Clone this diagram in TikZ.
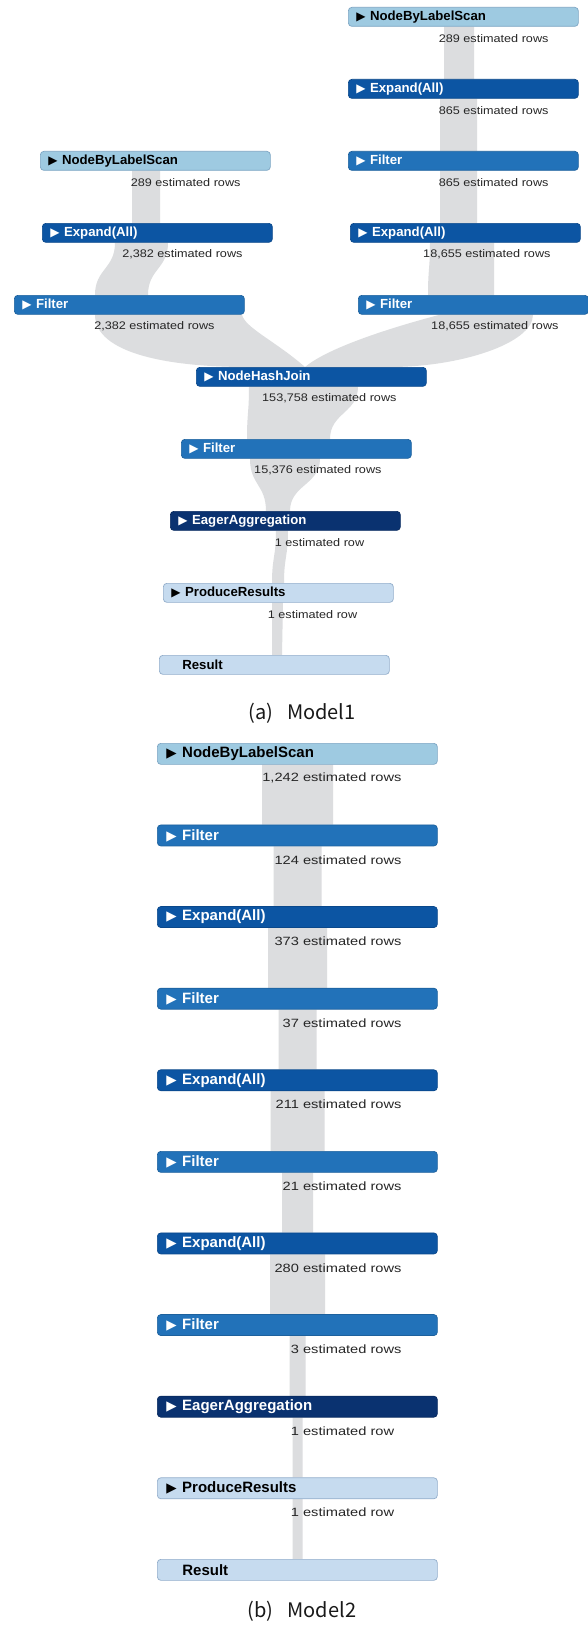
\documentclass[tikz,border=0pt]{standalone}
\usepackage{fontspec}
\setmainfont{Liberation Sans}
\newfontfamily\tri{DejaVu Sans}
\newfontfamily\rowA[FakeStretch=1.15]{Liberation Sans}
\newfontfamily\rowB[FakeStretch=1.22]{Liberation Sans}
\newfontfamily\capfont{Noto Sans CJK KR}
\usetikzlibrary{calc,backgrounds}

\definecolor{scanc}{HTML}{9ECAE1}
\definecolor{scanb}{HTML}{7EA6C4}
\definecolor{expc}{HTML}{0C55A3}
\definecolor{filc}{HTML}{2272B9}
\definecolor{eagc}{HTML}{0A3270}
\definecolor{prodc}{HTML}{C6DBEF}
\definecolor{prodb}{HTML}{93AECB}
\definecolor{bandc}{HTML}{DCDDDF}

\newcommand\tria{{\tri\fontsize{12}{12}\selectfont ▶}\hspace{4.5pt}}
\newcommand\trib{{\tri\fontsize{13.5}{13.5}\selectfont ▶}\hspace{5.5pt}}

% ribbon between two boxes: upper node, left x, right x, lower node, left x, right x
\newcommand\sband[6]{%
  \fill[band] let \p1=(#1.south), \p2=(#4.north), \n1={0.5*(\y1+\y2)} in
    (#2pt,\y1) .. controls (#2pt,\n1) and (#5pt,\n1) .. (#5pt,\y2)
    -- (#6pt,\y2) .. controls (#6pt,\n1) and (#3pt,\n1) .. (#3pt,\y1) -- cycle;}

\tikzset{
  op/.style={rectangle, rounded corners=3.5pt, anchor=north west, inner ysep=0pt,
    inner xsep=8pt, align=left, line width=0.7pt},
  opA/.style={op, minimum height=19pt, text width=214pt,
    font=\bfseries\fontsize{13.2}{14}\selectfont},
  opB/.style={op, minimum height=21pt, inner xsep=9pt, text width=262pt,
    font=\bfseries\fontsize{15}{17}\selectfont},
  scan/.style={fill=scanc, draw=scanb, text=black},
  expd/.style={fill=expc, draw=expc!85!black, text=white},
  filt/.style={fill=filc, draw=filc!85!black, text=white},
  eagr/.style={fill=eagc, draw=eagc!85!black, text=white},
  prod/.style={fill=prodc, draw=prodb, text=black},
  rowsA/.style={anchor=east, inner sep=0pt, font=\rowA\fontsize{11}{12}\selectfont, text=black!85},
  rowsB/.style={anchor=east, inner sep=0pt, font=\rowB\fontsize{12}{13}\selectfont, text=black!85},
  band/.style={fill=bandc},
  capt/.style={font=\capfont\fontsize{20}{22}\selectfont, text=black!90, inner sep=0pt},
}

\begin{document}
\begin{tikzpicture}[x=1pt,y=-1pt]
\useasboundingbox (0,0) rectangle (588,1632);

% ---------- Model 1 ----------
\node[opA,scan] (r1) at (348,7)   {\tria NodeByLabelScan};
\node[opA,expd] (r2) at (348,79)  {\tria Expand(All)};
\node[opA,filt] (r3) at (348,151) {\tria Filter};
\node[opA,expd] (r4) at (350,223) {\tria Expand(All)};
\node[opA,filt] (r5) at (358,295) {\tria Filter};
\node[opA,scan] (l1) at (40,151)  {\tria NodeByLabelScan};
\node[opA,expd] (l2) at (42,223)  {\tria Expand(All)};
\node[opA,filt] (l3) at (14,295)  {\tria Filter};
\node[opA,expd] (nhj) at (196,367) {\tria NodeHashJoin};
\node[opA,filt] (fa) at (181,439) {\tria Filter};
\node[opA,eagr] (ea) at (170,511) {\tria EagerAggregation};
\node[opA,prod] (pa) at (163,583) {\tria ProduceResults};
\node[opA,prod] (ra) at (159,655) {\hspace*{15pt}Result};

\node[rowsA] (r1t) at ($(r1.south east)+(-30,11.5)$) {289 estimated rows};
\node[rowsA] (r2t) at ($(r2.south east)+(-30,11.5)$) {865 estimated rows};
\node[rowsA] (r3t) at ($(r3.south east)+(-30,11.5)$) {865 estimated rows};
\node[rowsA] (r4t) at ($(r4.south east)+(-30,11.5)$) {18,655 estimated rows};
\node[rowsA] (r5t) at ($(r5.south east)+(-30,11.5)$) {18,655 estimated rows};
\node[rowsA] (l1t) at ($(l1.south east)+(-30,11.5)$) {289 estimated rows};
\node[rowsA] (l2t) at ($(l2.south east)+(-30,11.5)$) {2,382 estimated rows};
\node[rowsA] (l3t) at ($(l3.south east)+(-30,11.5)$) {2,382 estimated rows};
\node[rowsA] (nhjt) at ($(nhj.south east)+(-30,11.5)$) {153,758 estimated rows};
\node[rowsA] (fat) at ($(fa.south east)+(-30,11.5)$) {15,376 estimated rows};
\node[rowsA] (eat) at ($(ea.south east)+(-30,11.5)$) {1 estimated row\phantom{s}};
\node[rowsA] (pat) at ($(pa.south east)+(-30,11.5)$) {1 estimated row\phantom{s}};

\node[capt] (capa) at (302,713) {(a)\hspace{14pt}Model1};

% ---------- Model 2 ----------
\node[opB,scan] (m1) at (157,743.0)  {\trib NodeByLabelScan};
\node[opB,filt] (m2) at (157,824.6)  {\trib Filter};
\node[opB,expd] (m3) at (157,906.2)  {\trib Expand(All)};
\node[opB,filt] (m4) at (157,987.8)  {\trib Filter};
\node[opB,expd] (m5) at (157,1069.4) {\trib Expand(All)};
\node[opB,filt] (m6) at (157,1151.0) {\trib Filter};
\node[opB,expd] (m7) at (157,1232.6) {\trib Expand(All)};
\node[opB,filt] (m8) at (157,1314.2) {\trib Filter};
\node[opB,eagr] (m9) at (157,1395.8) {\trib EagerAggregation};
\node[opB,prod] (m10) at (157,1477.4) {\trib ProduceResults};
\node[opB,prod] (m11) at (157,1559.0) {\hspace*{16pt}Result};

\node[rowsB] (m1t) at ($(m1.south east)+(-36,13.5)$) {1,242 estimated rows};
\node[rowsB] (m2t) at ($(m2.south east)+(-36,13.5)$) {124 estimated rows};
\node[rowsB] (m3t) at ($(m3.south east)+(-36,13.5)$) {373 estimated rows};
\node[rowsB] (m4t) at ($(m4.south east)+(-36,13.5)$) {37 estimated rows};
\node[rowsB] (m5t) at ($(m5.south east)+(-36,13.5)$) {211 estimated rows};
\node[rowsB] (m6t) at ($(m6.south east)+(-36,13.5)$) {21 estimated rows};
\node[rowsB] (m7t) at ($(m7.south east)+(-36,13.5)$) {280 estimated rows};
\node[rowsB] (m8t) at ($(m8.south east)+(-36,13.5)$) {3 estimated rows};
\node[rowsB] (m9t) at ($(m9.south east)+(-36,13.5)$) {1 estimated row\phantom{s}};
\node[rowsB] (m10t) at ($(m10.south east)+(-36,13.5)$) {1 estimated row\phantom{s}};

\node[capt] (capb) at (302,1611) {(b)\hspace{14pt}Model2};

% ---------- flow ribbons ----------
\begin{pgfonlayer}{background}
\fill[white] (0,0) rectangle (588,1632);
% Model 1, right branch
\sband{r1}{444}{474}{r2}{444}{474}
\sband{r2}{440}{477}{r3}{440}{477}
\sband{r3}{440}{477}{r4}{440}{477}
\sband{r4}{430}{494}{r5}{428}{494}
\fill[band] let \p1=(r5.south), \p2=(nhj.north), \n1={\y1-\y2} in
  (440pt,\y1) -- (533pt,\y1) .. controls (533pt,{\y1-0.55*\n1}) and (460pt,\y2) .. (390pt,\y2)
  -- (305pt,\y2) .. controls (330pt,{\y1-0.6*\n1}) and (400pt,{\y1-0.2*\n1}) .. (440pt,\y1) -- cycle;
% Model 1, left branch
\sband{l1}{132}{160}{l2}{132}{160}
\sband{l2}{115}{168}{l3}{95}{148}
\fill[band] let \p1=(l3.south), \p2=(nhj.north), \n1={\y1-\y2} in
  (95pt,\y1) .. controls (95pt,{\y1-0.75*\n1}) and (170pt,\y2) .. (247pt,\y2)
  -- (305pt,\y2) .. controls (275pt,{\y1-0.5*\n1}) and (245pt,{\y1-0.25*\n1}) .. (242pt,\y1) -- cycle;
% Model 1, trunk
\sband{nhj}{249}{358}{fa}{247}{330}
\sband{fa}{250}{320}{ea}{266}{290}
\sband{ea}{276}{288}{pa}{272}{284}
\sband{pa}{272}{283}{ra}{272}{282}
% Model 2
\sband{m1}{262}{333}{m2}{262}{333}
\sband{m2}{273.5}{321.5}{m3}{273.5}{321.5}
\sband{m3}{268}{327}{m4}{268}{327}
\sband{m4}{278.5}{316.5}{m5}{278.5}{316.5}
\sband{m5}{270.5}{324.5}{m6}{270.5}{324.5}
\sband{m6}{282}{313}{m7}{282}{313}
\sband{m7}{270}{325}{m8}{270}{325}
\sband{m8}{289.5}{305.5}{m9}{289.5}{305.5}
\sband{m9}{292.5}{302.5}{m10}{292.5}{302.5}
\sband{m10}{292.5}{302.5}{m11}{292.5}{302.5}
\end{pgfonlayer}
\end{tikzpicture}
\end{document}
